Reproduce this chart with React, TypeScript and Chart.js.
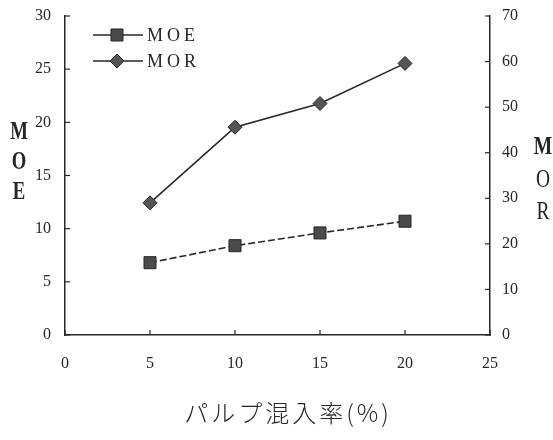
import React, { useEffect, useRef } from 'react';
import { Chart, registerables } from 'chart.js';
Chart.register(...registerables);

const mixRates = [5, 10, 15, 20];
const moeValues = [6.8, 8.4, 9.6, 10.7];
const morValues = [29.0, 45.6, 50.8, 59.6];
const xTicks = [0, 5, 10, 15, 20, 25];
const moeTicks = [0, 5, 10, 15, 20, 25, 30];
const morTicks = [0, 10, 20, 30, 40, 50, 60, 70];
const seriesNames = ['MOE', 'MOR'];
const xTitle = 'パルプ混入率(%)';
const leftTitle = ['M', 'O', 'E'];
const rightTitle = ['M', 'O', 'R'];

const INK = '#262626';
const tickFont = { family: '"Liberation Serif", "DejaVu Serif", serif', size: 16 };

const insideTicks = {
  id: 'insideTicks',
  afterDraw(chart: any) {
    const ctx = chart.ctx;
    const area = chart.chartArea;
    const { x, y, y2 } = chart.scales;
    ctx.save();
    ctx.strokeStyle = INK;
    ctx.lineWidth = 1.2;
    x.ticks.forEach((t: any) => {
      const px = x.getPixelForValue(t.value);
      ctx.beginPath();
      ctx.moveTo(px, area.bottom);
      ctx.lineTo(px, area.bottom - 5);
      ctx.stroke();
    });
    y.ticks.forEach((t: any) => {
      const py = y.getPixelForValue(t.value);
      ctx.beginPath();
      ctx.moveTo(area.left, py);
      ctx.lineTo(area.left + 5, py);
      ctx.stroke();
    });
    y2.ticks.forEach((t: any) => {
      const py = y2.getPixelForValue(t.value);
      ctx.beginPath();
      ctx.moveTo(area.right, py);
      ctx.lineTo(area.right - 5, py);
      ctx.stroke();
    });
    ctx.restore();
  },
};

function drawMarker(ctx: any, style: string, cx: number, cy: number, r: number, fill: string) {
  ctx.beginPath();
  if (style === 'rect') {
    const s = Math.SQRT1_2 * r;
    ctx.rect(cx - s, cy - s, 2 * s, 2 * s);
  } else {
    ctx.moveTo(cx - r, cy);
    ctx.lineTo(cx, cy - r);
    ctx.lineTo(cx + r, cy);
    ctx.lineTo(cx, cy + r);
    ctx.closePath();
  }
  ctx.fillStyle = fill;
  ctx.fill();
  ctx.strokeStyle = INK;
  ctx.lineWidth = 1;
  ctx.stroke();
}

const annotations = {
  id: 'annotations',
  afterDraw(chart: any) {
    const ctx = chart.ctx;
    const area = chart.chartArea;
    ctx.save();
    chart.data.datasets.forEach((ds: any, i: number) => {
      const ly = area.top + 19 + i * 26;
      const lx = area.left + 28;
      ctx.setLineDash([]);
      ctx.strokeStyle = INK;
      ctx.lineWidth = 1.3;
      ctx.beginPath();
      ctx.moveTo(lx, ly);
      ctx.lineTo(lx + 50, ly);
      ctx.stroke();
      drawMarker(ctx, ds.pointStyle, lx + 24, ly, ds.pointRadius, ds.pointBackgroundColor);
      ctx.fillStyle = INK;
      ctx.font = '18px "Liberation Serif", serif';
      (ctx as any).letterSpacing = '4px';
      ctx.textAlign = 'left';
      ctx.textBaseline = 'middle';
      ctx.fillText(ds.label, lx + 54, ly + 1);
    });
    (ctx as any).letterSpacing = '0px';
    leftTitle.forEach((ch, i) => {
      ctx.save();
      ctx.translate(19, 132 + i * 30);
      ctx.scale(0.72, 1);
      ctx.font = 'bold 26px "Liberation Serif", serif';
      ctx.textAlign = 'center';
      ctx.textBaseline = 'middle';
      ctx.fillStyle = INK;
      ctx.fillText(ch, 0, 0);
      ctx.restore();
    });
    rightTitle.forEach((ch, i) => {
      ctx.save();
      ctx.translate(543, 148 + i * 32);
      ctx.scale(0.78, 1);
      ctx.font = (i === 0 ? 'bold ' : '') + '25px "Liberation Serif", serif';
      ctx.textAlign = 'center';
      ctx.textBaseline = 'middle';
      ctx.fillStyle = INK;
      ctx.fillText(ch, 0, 0);
      ctx.restore();
    });
    ctx.font = '300 24px "Noto Sans CJK JP", sans-serif';
    (ctx as any).letterSpacing = '3px';
    ctx.textAlign = 'center';
    ctx.textBaseline = 'middle';
    ctx.fillStyle = INK;
    ctx.fillText(xTitle, 288, 413);
    ctx.restore();
  },
};

const noPad = (s: any) => {
  s.paddingTop = 0;
  s.paddingBottom = 0;
  s.paddingLeft = 0;
  s.paddingRight = 0;
};

export default function App() {
  const ref = useRef<HTMLCanvasElement | null>(null);
  useEffect(() => {
    const canvas = ref.current;
    if (!canvas) return;
    const chart = new Chart(canvas, {
      type: 'line',
      data: {
        datasets: [
          {
            label: seriesNames[0],
            data: mixRates.map((r, i) => ({ x: r, y: moeValues[i] })),
            yAxisID: 'y',
            borderColor: INK,
            borderWidth: 1.6,
            borderDash: [7, 3],
            pointStyle: 'rect',
            pointRadius: 8.5,
            pointBackgroundColor: '#4a4a4a',
            pointBorderColor: INK,
            pointBorderWidth: 1,
            fill: false,
            tension: 0,
          },
          {
            label: seriesNames[1],
            data: mixRates.map((r, i) => ({ x: r, y: morValues[i] })),
            yAxisID: 'y2',
            borderColor: INK,
            borderWidth: 1.6,
            pointStyle: 'rectRot',
            pointRadius: 7,
            pointBackgroundColor: '#555555',
            pointBorderColor: INK,
            pointBorderWidth: 1,
            fill: false,
            tension: 0,
          },
        ],
      } as any,
      options: {
        animation: false,
        responsive: false,
        layout: { padding: { top: 16, left: 0, right: 0, bottom: 0 } },
        plugins: { legend: { display: false }, tooltip: { enabled: false } },
        scales: {
          x: {
            type: 'linear',
            position: 'bottom',
            min: 0,
            max: 25,
            afterBuildTicks: (s: any) => { s.ticks = xTicks.map((v) => ({ value: v })); },
            afterFit: (s: any) => { s.height = 105; noPad(s); },
            grid: { drawOnChartArea: false, drawTicks: false },
            border: { color: INK, width: 1.5 },
            ticks: { padding: 19, font: tickFont, color: INK },
          },
          y: {
            type: 'linear',
            position: 'left',
            min: 0,
            max: 30,
            afterBuildTicks: (s: any) => { s.ticks = moeTicks.map((v) => ({ value: v })); },
            afterFit: (s: any) => { s.width = 65; noPad(s); },
            grid: { drawOnChartArea: false, drawTicks: false },
            border: { color: INK, width: 1.5 },
            ticks: { padding: 14, font: tickFont, color: INK },
          },
          y2: {
            type: 'linear',
            position: 'right',
            min: 0,
            max: 70,
            afterBuildTicks: (s: any) => { s.ticks = morTicks.map((v) => ({ value: v })); },
            afterFit: (s: any) => { s.width = 63; noPad(s); },
            grid: { drawOnChartArea: false, drawTicks: false },
            border: { color: INK, width: 1.5 },
            ticks: { padding: 12, font: tickFont, color: INK },
          },
        },
      } as any,
      plugins: [insideTicks, annotations],
    });
    return () => chart.destroy();
  }, []);
  return (
    <div style={{ position: 'absolute', left: 0, top: 0, width: 553, height: 440, background: '#fff' }}>
      <canvas ref={ref} width={553} height={440} style={{ display: 'block' }} />
    </div>
  );
}
